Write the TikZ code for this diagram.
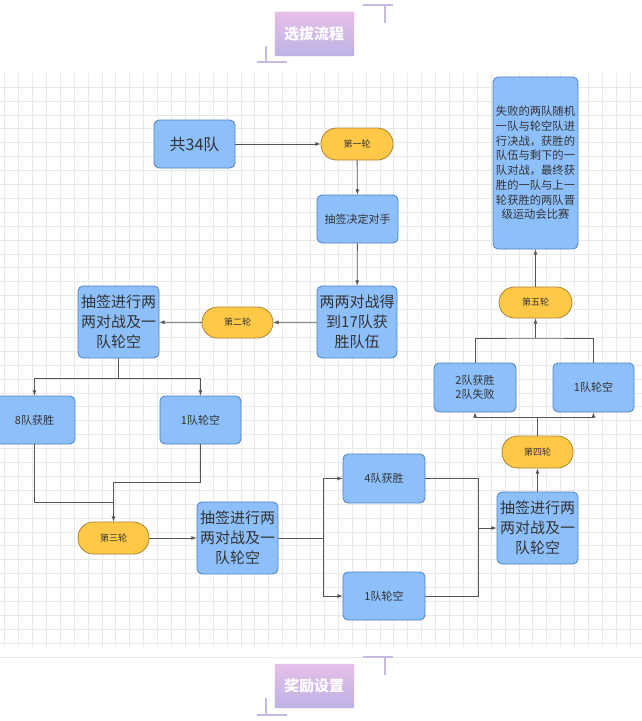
\documentclass[tikz,border=0pt]{standalone}
\usepackage{fontspec}
\newfontfamily\cjk{Noto Sans CJK SC}
\usetikzlibrary{positioning}

\definecolor{boxblue}{HTML}{8DC0FA}
\definecolor{boxedge}{HTML}{4F7FBF}
\definecolor{pillfill}{HTML}{FFC846}
\definecolor{pilledge}{HTML}{A88636}
\definecolor{wire}{HTML}{555555}
\definecolor{gridgray}{HTML}{E9E9E9}
\definecolor{decor}{HTML}{C7B9E2}
\definecolor{titletop}{HTML}{E6C0E8}
\definecolor{titlebot}{HTML}{BCB2E5}

\tikzset{
  box/.style={draw=boxedge, fill=boxblue, rounded corners=5pt, line width=0.8pt,
    align=center, text=black!80, inner sep=0pt},
  pill/.style={draw=pilledge, fill=pillfill, rounded corners=15.5pt, line width=0.8pt,
    minimum width=72pt, minimum height=32pt, inner sep=0pt, text=black!80,
    font=\cjk\fontsize{9}{11}\selectfont},
  title/.style={top color=titletop, bottom color=titlebot,
    draw=white!80!titletop, minimum width=80pt, minimum height=45pt, text=white,
    font=\cjk\bfseries\fontsize{15}{17}\selectfont},
  wirel/.style={draw=wire, line width=0.8pt},
  small/.style={font=\cjk\fontsize{11}{14}\selectfont},
  big/.style={font=\cjk\fontsize{15}{20}\selectfont}
}

\begin{document}
\begin{tikzpicture}[x=1pt,y=-1pt]
  \useasboundingbox (0,0) rectangle (642,721);
  \fill[white] (0,0) rectangle (642,721);

  %% grid
  \foreach \gx in {0,...,46}
    \draw[gridgray, line width=0.6pt] (4.5+13.9*\gx,73) -- (4.5+13.9*\gx,647);
  \foreach \gy in {0,...,41}
    \draw[gridgray, line width=0.6pt] (0,87+13.9*\gy) -- (642,87+13.9*\gy);

  %% titles
  \node[title] (head) at (314,34) {选拔流程};
  \draw[decor, line width=1.3pt] (363,5) -- (393,5) (385,5) -- (385,23);
  \draw[decor, line width=1.3pt] (257,62) -- (287,62) (266,46) -- (266,62);
  \node[title] (prize) at (314,685.5) {奖励设置};
  \draw[decor, line width=1.3pt] (363,657) -- (393,657) (385,657) -- (385,675);
  \draw[decor, line width=1.3pt] (257,715) -- (287,715) (266,698) -- (266,715);

  %% round one
  \node[box, minimum width=81pt, minimum height=48pt,
    font=\cjk\fontsize{16}{18}\selectfont] (total) at (194.5,144) {共34队};
  \node[pill] (r1) at (357,144) {第一轮};
  \node[box, small, minimum width=81pt, minimum height=48pt] (pick) at (357.5,219) {抽签决定对手};
  \node[box, big, minimum width=80pt, minimum height=72pt] (win17) at (357,322)
    {两两对战得\\到17队获\\胜队伍};

  %% round two
  \node[pill, minimum width=71pt, minimum height=31pt] (r2) at (237.5,322.5) {第二轮};
  \node[box, big, minimum width=81pt, minimum height=72pt] (drawA) at (118.5,322)
    {抽签进行两\\两对战及一\\队轮空};
  \node[box, small, minimum width=81pt, minimum height=48pt] (w8) at (34.5,420) {8队获胜};
  \node[box, small, minimum width=81pt, minimum height=48pt] (bye1) at (200.5,420) {1队轮空};

  %% round three
  \node[pill, minimum width=71pt] (r3) at (113.5,538) {第三轮};
  \node[box, big, minimum width=81pt, minimum height=72pt] (drawB) at (237.5,538)
    {抽签进行两\\两对战及一\\队轮空};
  \node[box, small, minimum width=82pt, minimum height=49pt] (w4) at (384,478.5) {4队获胜};
  \node[box, small, minimum width=82pt, minimum height=48pt] (bye2) at (384,596) {1队轮空};

  %% round four
  \node[box, big, minimum width=81pt, minimum height=72pt] (drawC) at (537.5,528)
    {抽签进行两\\两对战及一\\队轮空};
  \node[pill, minimum width=71pt] (r4) at (537.5,452) {第四轮};
  \node[box, small, minimum width=82pt, minimum height=49pt] (w2) at (475,387.5)
    {2队获胜\\2队失败};
  \node[box, small, minimum width=81pt, minimum height=49pt] (bye3) at (593.5,387.5) {1队轮空};

  %% round five
  \node[pill, minimum width=73pt, minimum height=31pt] (r5) at (535.5,302.5) {第五轮};
  \node[box, minimum width=85pt, minimum height=172pt,
    font=\cjk\fontsize{11.3}{14.7}\selectfont] (final) at (535.5,163)
    {失败的两队随机\\一队与轮空队进\\行决战，获胜的\\队伍与剩下的一\\队对战，最终获\\胜的一队与上一\\轮获胜的两队晋\\级运动会比赛};

  %% wires
  \draw[wirel, -latex] (total) -- (r1);
  \draw[wirel, -latex] (r1) -- (pick);
  \draw[wirel, -latex] (pick) -- (win17);
  \draw[wirel, -latex] (win17) -- (r2);
  \draw[wirel, -latex] (r2) -- (drawA);

  \coordinate (splitA) at (118.5,378);
  \draw[wirel] (drawA.south) -- (splitA);
  \draw[wirel, -latex] (splitA) -| (w8.north);
  \draw[wirel, -latex] (splitA) -| (bye1.north);

  \coordinate (joinB) at (113.5,502);
  \draw[wirel] (w8.south) |- (joinB);
  \draw[wirel, -latex] (bye1.south) |- (113.5,482) -- (r3.north);
  \draw[wirel, -latex] (r3) -- (drawB);

  \coordinate (splitB) at (323,538);
  \draw[wirel] (drawB.east) -- (splitB);
  \draw[wirel, -latex] (splitB) |- (w4.west);
  \draw[wirel, -latex] (splitB) |- (bye2.west);

  \coordinate (joinC) at (478,528);
  \draw[wirel] (w4.east) -| (joinC);
  \draw[wirel] (bye2.east) -| (joinC);
  \draw[wirel, -latex] (joinC) -- (drawC.west);
  \draw[wirel, -latex] (drawC) -- (r4);

  \coordinate (splitC) at (537.5,417);
  \draw[wirel] (r4.north) -- (splitC);
  \draw[wirel, -latex] (splitC) -| (w2.south);
  \draw[wirel, -latex] (splitC) -| (bye3.south);

  \coordinate (joinD) at (535.5,338);
  \draw[wirel] (w2.north) |- (joinD) -| (bye3.north);
  \draw[wirel, -latex] (joinD) -- (r5);
  \draw[wirel, -latex] (r5) -- (final);
\end{tikzpicture}
\end{document}
